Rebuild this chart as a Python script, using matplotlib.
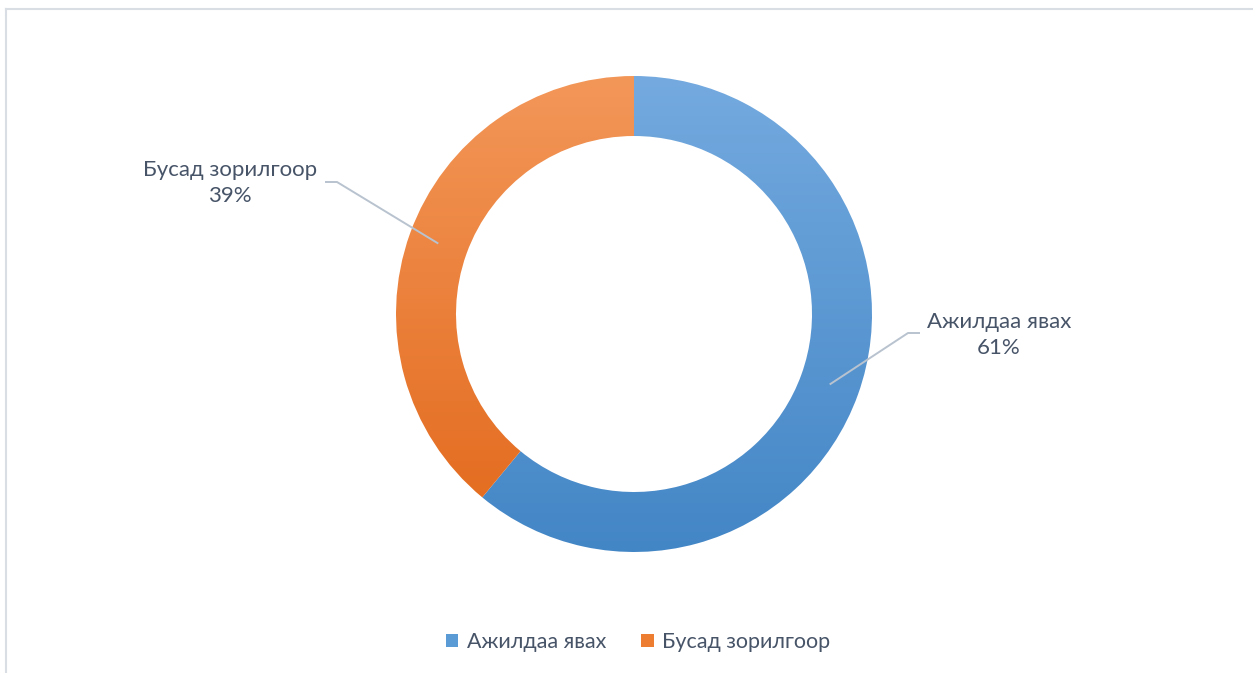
import numpy as np
import matplotlib
matplotlib.use("Agg")
import matplotlib.pyplot as plt
from matplotlib.patches import Patch
from matplotlib.lines import Line2D
from matplotlib.colors import to_rgba

labels = ["Ажилдаа явах", "Бусад зорилгоор"]
values = [61, 39]
top_colors = ["#74AADF", "#F39759"]
bottom_colors = ["#4386C6", "#E2681A"]
legend_colors = ["#5B9BD5", "#ED7D31"]

text_color = "#475468"
line_color = "#B8C3CF"
plt.rcParams["font.family"] = ["Lato", "DejaVu Sans"]

W, H = 1253, 673
fig = plt.figure(figsize=(W / 100, H / 100), dpi=100)
ax = fig.add_axes([0, 0, 1, 1])

cx, cy = 634, H - 314
R, ring = 238, 60

wedges, _ = ax.pie(values, radius=R, center=(cx, cy), startangle=90,
                   counterclock=False, frame=True,
                   wedgeprops=dict(width=ring, linewidth=0))

# vertical gradient inside each slice
n = 256
t = np.linspace(0, 1, n)[:, None]
for w, c0, c1 in zip(wedges, top_colors, bottom_colors):
    a = np.array(to_rgba(c0))
    b = np.array(to_rgba(c1))
    grad = (a * (1 - t) + b * t)[:, None, :]
    im = ax.imshow(grad, extent=(cx - R, cx + R, cy - R, cy + R),
                   origin="upper", aspect="auto", interpolation="bilinear",
                   zorder=2)
    im.set_clip_path(w)
    w.set_facecolor("none")

# data labels with leader lines
label_pos = [(999, H - 335), (230, H - 183)]
elbows = [((908, H - 333), (920, H - 333)), ((337, H - 182), (325, H - 182))]
for w, lab, v, (tx, ty), (e1, e2) in zip(wedges, labels, values, label_pos, elbows):
    ang = np.deg2rad((w.theta1 + w.theta2) / 2)
    rm = R - ring / 2
    px, py = cx + rm * np.cos(ang), cy + rm * np.sin(ang)
    ax.plot([px, e1[0], e2[0]], [py, e1[1], e2[1]], color=line_color,
            lw=1.4, zorder=3, solid_capstyle="butt")
    ax.text(tx, ty, f"{lab}\n{v}%", ha="center", va="center",
            fontsize=16, color=text_color, linespacing=1.4, zorder=4)

ax.set_xlim(0, W)
ax.set_ylim(0, H)
ax.set_aspect("auto")
ax.set_axis_off()

handles = [Patch(facecolor=c, edgecolor="none") for c in legend_colors]
leg = ax.legend(handles, labels, loc="center", bbox_to_anchor=(638 / W, 1 - 642 / H),
                ncol=2, frameon=False, fontsize=15.5, handlelength=0.6,
                handleheight=0.6, handletextpad=0.4, columnspacing=1.6)
for txt in leg.get_texts():
    txt.set_color(text_color)

# chart area border (top and left edges)
border = "#D9DEE5"
fig.add_artist(Line2D([5.5 / W, 1252 / W], [1 - 9 / H, 1 - 9 / H],
                      transform=fig.transFigure, color=border, lw=1.5))
fig.add_artist(Line2D([5.5 / W, 5.5 / W], [0, 1 - 9 / H],
                      transform=fig.transFigure, color=border, lw=1.5))

fig.savefig("out.png", dpi=100, facecolor="white")
